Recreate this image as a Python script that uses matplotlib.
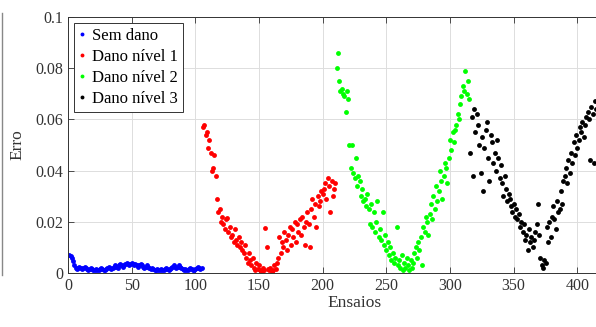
import numpy as np
import matplotlib
matplotlib.use("Agg")
import matplotlib.pyplot as plt
from matplotlib.lines import Line2D

plt.rcParams['font.family'] = ['Liberation Serif', 'DejaVu Serif']

# valores (erro por ensaio)
sem_dano = [
    0.007, 0.0065, 0.006, 0.0045, 0.003, 0.002, 0.0015, 0.002, 0.0025, 0.002,
    0.0015, 0.002, 0.0025, 0.002, 0.0015, 0.001, 0.0015, 0.002, 0.0015, 0.001,
    0.0012, 0.0015, 0.001, 0.0012, 0.0015, 0.002, 0.0015, 0.001, 0.0012, 0.0015,
    0.002, 0.0025, 0.002, 0.0015, 0.002, 0.0025, 0.003, 0.0025, 0.002, 0.003,
    0.0035, 0.003, 0.0025, 0.003, 0.0035, 0.004, 0.0035, 0.003, 0.0035, 0.004,
    0.0035, 0.003, 0.0035, 0.003, 0.0025, 0.003, 0.0035, 0.003, 0.0025, 0.002,
    0.0025, 0.003, 0.0025, 0.002, 0.0015, 0.002, 0.0015, 0.001, 0.0012, 0.0015,
    0.001, 0.0012, 0.0015, 0.001, 0.0012, 0.0015, 0.002, 0.0015, 0.001, 0.0015,
    0.002, 0.0025, 0.003, 0.0025, 0.002, 0.0025, 0.003, 0.0025, 0.002, 0.0015,
    0.001, 0.0015, 0.001, 0.0012, 0.0015, 0.002, 0.0015, 0.001, 0.0012, 0.0015,
    0.002, 0.0025, 0.002, 0.0015, 0.002]

dano_1 = [
    0.057, 0.058, 0.054, 0.055, 0.049, 0.052, 0.047, 0.040, 0.041, 0.046,
    0.038, 0.029, 0.024, 0.025, 0.020, 0.022, 0.019, 0.017, 0.021, 0.0215,
    0.016, 0.018, 0.014, 0.015, 0.012, 0.017, 0.013, 0.011, 0.014, 0.010,
    0.012, 0.009, 0.008, 0.011, 0.006, 0.004, 0.008, 0.005, 0.003, 0.006,
    0.002, 0.001, 0.004, 0.0015, 0.003, 0.001, 0.0005, 0.002, 0.001, 0.0176,
    0.010, 0.0015, 0.001, 0.002, 0.0005, 0.001, 0.003, 0.0015, 0.004, 0.006,
    0.014, 0.008, 0.012, 0.010, 0.016, 0.013, 0.009, 0.015, 0.018, 0.011,
    0.017, 0.014, 0.020, 0.012, 0.019, 0.016, 0.021, 0.015, 0.022, 0.018,
    0.011, 0.020, 0.024, 0.019, 0.010, 0.025, 0.029, 0.022, 0.027, 0.018,
    0.030, 0.026, 0.028, 0.032, 0.031, 0.033, 0.035, 0.029, 0.037, 0.034,
    0.024, 0.036, 0.030, 0.033, 0.035]

dano_2 = [
    0.080, 0.086, 0.075, 0.071, 0.072, 0.070, 0.069, 0.063, 0.071, 0.068,
    0.050, 0.041, 0.050, 0.039, 0.037, 0.045, 0.034, 0.038, 0.036, 0.030,
    0.033, 0.028, 0.029, 0.026, 0.031, 0.025, 0.019, 0.027, 0.018, 0.024,
    0.016, 0.020, 0.028, 0.014, 0.017, 0.013, 0.024, 0.011, 0.015, 0.009,
    0.012, 0.007, 0.010, 0.005, 0.008, 0.004, 0.006, 0.018, 0.003, 0.005,
    0.002, 0.007, 0.001, 0.004, 0.002, 0.006, 0.003, 0.001, 0.005, 0.002,
    0.004, 0.008, 0.010, 0.006, 0.012, 0.009, 0.014, 0.003, 0.018, 0.016,
    0.022, 0.020, 0.015, 0.023, 0.027, 0.021, 0.030, 0.025, 0.034, 0.028,
    0.032, 0.040, 0.036, 0.029, 0.038, 0.043, 0.041, 0.035, 0.045, 0.052,
    0.048, 0.055, 0.051, 0.056, 0.058, 0.062, 0.060, 0.066, 0.069, 0.073,
    0.071, 0.079, 0.070, 0.075, 0.068]

dano_3 = [
    0.047, 0.061, 0.038, 0.064, 0.055, 0.062, 0.058, 0.050, 0.039, 0.053,
    0.032, 0.049, 0.056, 0.059, 0.045, 0.036, 0.054, 0.051, 0.043, 0.047,
    0.040, 0.052, 0.045, 0.037, 0.042, 0.035, 0.030, 0.038, 0.033, 0.028,
    0.031, 0.029, 0.026, 0.024, 0.027, 0.022, 0.025, 0.021, 0.023, 0.018,
    0.020, 0.016, 0.019, 0.013, 0.015, 0.009, 0.017, 0.012, 0.014, 0.010,
    0.013, 0.016, 0.019, 0.027, 0.015, 0.006, 0.003, 0.002, 0.005, 0.004,
    0.018, 0.012, 0.020, 0.014, 0.022, 0.026, 0.021, 0.017, 0.028, 0.024,
    0.025, 0.032, 0.027, 0.036, 0.038, 0.041, 0.035, 0.044, 0.039, 0.047,
    0.043, 0.051, 0.046, 0.054, 0.049, 0.052, 0.057, 0.055, 0.059, 0.053,
    0.058, 0.061, 0.063, 0.060, 0.044, 0.065, 0.062, 0.043, 0.067, 0.064,
    0.066, 0.063, 0.068, 0.065, 0.067]

series = [sem_dano, dano_1, dano_2, dano_3]
nomes = ['Sem dano', 'Dano nível 1', 'Dano nível 2', 'Dano nível 3']
cores = ['#0000ff', '#ff0000', '#00ff00', '#000000']

fig = plt.figure(figsize=(5.96, 3.27), dpi=100)
ax = fig.add_axes([68 / 596, 54 / 327, 573 / 596, 256 / 327])

inicio = 1
for vals, nome, cor in zip(series, nomes, cores):
    x = np.arange(inicio, inicio + len(vals))
    ax.plot(x, vals, 'o', color=cor, markersize=3.5, markeredgewidth=0, label=nome)
    inicio += len(vals)

ax.set_xlim(0, 450)
ax.set_ylim(0, 0.1)
ax.set_xticks(np.arange(0, 401, 50))
ax.set_yticks(np.arange(0, 0.101, 0.02))
ax.yaxis.set_major_formatter(plt.FuncFormatter(lambda v, p: '%g' % round(v, 3)))
ax.grid(True, color='#dddddd', linewidth=0.7)
ax.set_axisbelow(True)
ax.tick_params(direction='in', top=True, right=False, labelsize=11.5,
               colors='#333333', length=4, width=0.6)
for s in ax.spines.values():
    s.set_color('#333333')
    s.set_linewidth(0.7)
ax.set_xlabel('Ensaios', fontsize=12.5, color='#333333', labelpad=1)
ax.set_ylabel('Erro', fontsize=12.5, color='#333333', labelpad=7)

leg = ax.legend(loc='upper left', fontsize=12, handlelength=0.4, handletextpad=0.4,
                borderpad=0.3, labelspacing=0.3, borderaxespad=0.35,
                fancybox=False, framealpha=1, markerscale=0.8)
leg.get_frame().set_edgecolor('#333333')
leg.get_frame().set_linewidth(0.7)

# borda de outra figura recortada na esquerda
fig.add_artist(Line2D([1.5 / 596, 1.5 / 596], [52 / 327, 1 - 13 / 327], color='#888888', linewidth=1))

fig.savefig('out.png', dpi=100)
